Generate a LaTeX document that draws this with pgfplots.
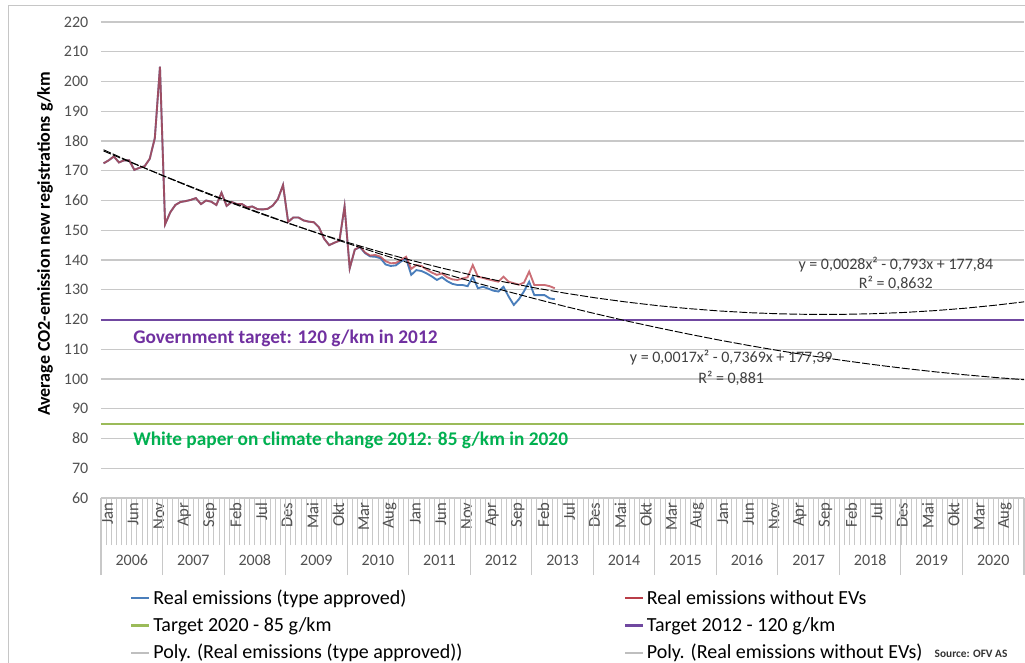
\documentclass[border=0pt]{standalone}
\usepackage{fontspec}
\setmainfont{Carlito}
\usepackage{pgfplots}
\pgfplotsset{compat=1.18}
\definecolor{blueS}{RGB}{74,126,187}
\definecolor{redS}{RGB}{185,62,72}
\definecolor{purpS}{RGB}{112,72,160}
\definecolor{greenS}{RGB}{155,187,89}
\definecolor{txtpurp}{RGB}{112,48,160}
\definecolor{txtgreen}{RGB}{0,176,80}
\definecolor{gridc}{RGB}{200,200,200}
\definecolor{tickc}{RGB}{80,80,80}
\definecolor{eqc}{RGB}{64,64,64}
\begin{document}
\begin{tikzpicture}
\begin{axis}[
 scale only axis, width=692.25pt, height=357pt,
 xmin=-0.5, xmax=179.5, ymin=60, ymax=220,
 ytick={60,70,...,220},
 axis x line*=bottom, axis y line*=left,
 y axis line style={draw=none},
 x axis line style={draw=gridc, line width=1pt},
 ymajorgrids, grid style={draw=gridc, line width=1.1pt},
 tick align=outside,
 major tick length=0pt,
 minor tick length=35.25pt,
 xtick={0,5,...,175},
 xticklabels={Jan,Jun,Nov,Apr,Sep,Feb,Jul,Des,Mai,Okt,Mar,Aug,Jan,Jun,Nov,Apr,Sep,Feb,Jul,Des,Mai,Okt,Mar,Aug,Jan,Jun,Nov,Apr,Sep,Feb,Jul,Des,Mai,Okt,Mar,Aug},
 minor xtick={-0.5,0.5,...,179.5},
 minor tick style={draw=gridc, line width=0.6pt},
 extra x ticks={-0.5,11.5,...,179.5},
 extra x tick labels={},
 extra x tick style={major tick length=57.75pt, tick style={draw=gridc, line width=0.8pt}},
 xticklabel style={rotate=90, anchor=east, font=\fontsize{12.5}{14}\selectfont, text=tickc, yshift=-3pt},
 yticklabel style={font=\fontsize{12}{14}\selectfont, text=tickc, xshift=-6pt},
 /pgf/number format/assume math mode=true,
 ylabel={Average CO2-emission new registrations g/km},
 ylabel style={at={(axis description cs:-0.0607,0.534)}, anchor=center, font=\bfseries\fontsize{13.5}{16}\selectfont},
 legend columns=2,
 legend cell align=left,
 legend style={at={(axis description cs:0.0314,-0.187)}, anchor=north west, draw=none, fill=none, inner sep=0pt,
   font=\fontsize{15}{18}\selectfont, row sep=4.2pt, /tikz/every even column/.append style={column sep=119pt}},
 legend image code/.code={\draw[#1] (0pt,0pt) -- (13.5pt,0pt);},
]
% targets
\addplot[forget plot, draw=purpS, line width=1.5pt] coordinates {(-0.5,120) (179.5,120)};
\addplot[forget plot, draw=greenS, line width=1.5pt] coordinates {(-0.5,85) (179.5,85)};
% Real emissions (type approved)
\addplot[forget plot, draw=blueS, line width=1.4pt] coordinates {
(0,172.5)(1,173.5)(2,174.8)(3,172.8)(4,173.5)(5,173.5)(6,170.3)(7,171)(8,171.5)(9,174)(10,181)(11,205)
(12,152)(13,156)(14,158.5)(15,159.5)(16,159.8)(17,160.2)(18,160.8)(19,158.8)(20,160)(21,159.6)(22,158.5)(23,162.6)
(24,158.2)(25,159.5)(26,158.8)(27,158.8)(28,157.7)(29,158)(30,157.1)(31,157)(32,157.2)(33,158.3)(34,160.5)(35,165.2)
(36,152.8)(37,154.3)(38,154.3)(39,153.3)(40,152.9)(41,152.7)(42,151)(43,147.2)(44,145)(45,145.8)(46,146.5)(47,158)
(48,137.2)(49,143.5)(50,144.3)(51,142.3)(52,141.2)(53,141.1)(54,140.6)(55,138.5)(56,138)(57,138.2)(58,139.5)(59,140.5)
(60,135)(61,136.6)(62,136.3)(63,135.5)(64,134.5)(65,133.3)(66,134.2)(67,132.9)(68,132)(69,131.6)(70,131.6)(71,131.2)
(72,134.4)(73,130.5)(74,131)(75,130.4)(76,129.7)(77,129.4)(78,131)(79,127.7)(80,124.9)(81,126.8)(82,129.5)(83,132.7)
(84,128.2)(85,128.2)(86,128.2)(87,127.1)(88,126.8)};
% Real emissions without EVs
\addplot[forget plot, draw=redS, line width=1.4pt, opacity=0.75] coordinates {
(0,172.5)(1,173.5)(2,174.8)(3,172.8)(4,173.5)(5,173.5)(6,170.3)(7,171)(8,171.5)(9,174)(10,181)(11,205)
(12,152)(13,156)(14,158.5)(15,159.5)(16,159.8)(17,160.2)(18,160.8)(19,158.8)(20,160)(21,159.6)(22,158.5)(23,162.6)
(24,158.2)(25,159.5)(26,158.8)(27,158.8)(28,157.7)(29,158)(30,157.1)(31,157)(32,157.2)(33,158.3)(34,160.5)(35,165.2)
(36,152.8)(37,154.3)(38,154.3)(39,153.3)(40,152.9)(41,152.7)(42,151)(43,147.2)(44,145)(45,145.8)(46,146.5)(47,158)
(48,137.2)(49,143.5)(50,144.5)(51,142.5)(52,141.5)(53,141.7)(54,141.1)(55,139.6)(56,138.9)(57,139)(58,140)(59,141.1)
(60,137)(61,138.3)(62,138)(63,136.8)(64,135.8)(65,135)(66,135.5)(67,134.2)(68,133.5)(69,133.3)(70,133.8)(71,134.2)
(72,138.3)(73,134.4)(74,134)(75,133.5)(76,133.1)(77,132.7)(78,134.4)(79,132.7)(80,132.2)(81,131.7)(82,132.4)(83,136.1)
(84,131.6)(85,131.6)(86,131.6)(87,131.2)(88,130.5)};
% Poly trend (without EVs)
\addplot[forget plot, draw=black, line width=0.7pt, dash pattern=on 6pt off 1.5pt] coordinates {
(0,177.05)(6,172.43)(12,168.00)(18,163.78)(24,159.77)(30,155.95)(36,152.33)(42,148.92)(48,145.71)(54,142.70)
(60,139.89)(66,137.28)(72,134.87)(78,132.67)(84,130.67)(90,128.86)(96,127.26)(102,125.87)(108,124.67)(114,123.68)
(120,122.88)(126,122.29)(132,121.90)(138,121.71)(144,121.73)(150,121.94)(156,122.36)(162,122.97)(168,123.79)(174,124.82)(180,126.04)};
% Poly trend (type approved)
\addplot[forget plot, draw=black, line width=0.7pt, dash pattern=on 6pt off 1.5pt] coordinates {
(0,176.65)(6,172.32)(12,168.10)(18,164.00)(24,160.03)(30,156.18)(36,152.45)(42,148.85)(48,145.36)(54,142.00)
(60,138.76)(66,135.65)(72,132.66)(78,129.78)(84,127.04)(90,124.41)(96,121.91)(102,119.52)(108,117.27)(114,115.13)
(120,113.11)(126,111.22)(132,109.45)(138,107.81)(144,106.28)(150,104.88)(156,103.60)(162,102.44)(168,101.41)(174,100.50)(180,99.70)};
% legend
\addlegendimage{draw=blueS, line width=1.8pt}\addlegendentry{Real emissions (type approved)}
\addlegendimage{draw=redS, line width=1.3pt}\addlegendentry{Real emissions without EVs}
\addlegendimage{draw=greenS, line width=1.8pt}\addlegendentry{Target 2020 - 85 g/km}
\addlegendimage{draw=purpS, line width=1.8pt}\addlegendentry{Target 2012 - 120 g/km}
\addlegendimage{draw=gray!50, line width=1.5pt}\addlegendentry{Poly. (Real emissions (type approved))}
\addlegendimage{draw=gray!50, line width=1.5pt}\addlegendentry{Poly. (Real emissions without EVs)}
% annotations
\node[anchor=west, font=\bfseries\fontsize{14.5}{17}\selectfont, text=txtpurp, inner sep=0pt] at (axis cs:5.74,113.8) {Government target: 120 g/km in 2012};
\node[anchor=west, font=\bfseries\fontsize{14.5}{17}\selectfont, text=txtgreen, inner sep=0pt] at (axis cs:5.74,79.5) {White paper on climate change 2012: 85 g/km in 2020};
\node[font=\fontsize{12}{14}\selectfont, text=eqc, inner sep=0pt] at (axis cs:154.5,138.3) {y = 0,0028x² - 0,793x + 177,84};
\node[font=\fontsize{12}{14}\selectfont, text=eqc, inner sep=0pt] at (axis cs:154.5,132.3) {R² = 0,8632};
\node[font=\fontsize{12}{14}\selectfont, text=eqc, inner sep=0pt] at (axis cs:122.4,107.1) {y = 0,0017x² - 0,7369x + 177,39};
\node[font=\fontsize{12}{14}\selectfont, text=eqc, inner sep=0pt] at (axis cs:122.4,100.3) {R² = 0,881};
\end{axis}
% year labels
\foreach \k/\yr in {0/2006,1/2007,2/2008,3/2009,4/2010,5/2011,6/2012,7/2013,8/2014,9/2015,10/2016,11/2017,12/2018,13/2019,14/2020}{
  \node[font=\fontsize{12}{14}\selectfont, text=tickc] at ({(23.075+46.15*\k)*1pt},-46.5pt) {\yr};
}
\node[anchor=west, font=\bfseries\fontsize{8.5}{10}\selectfont, text=black!80] at (621.75pt,-117pt) {Source: OFV AS};
\draw[gray!45, line width=0.7pt] (-69.75pt,-300pt) rectangle (900pt,369.75pt);
\pgfresetboundingbox
\path[use as bounding box] (-75.75pt,-123pt) rectangle (693pt,373.5pt);
\end{tikzpicture}
\end{document}
